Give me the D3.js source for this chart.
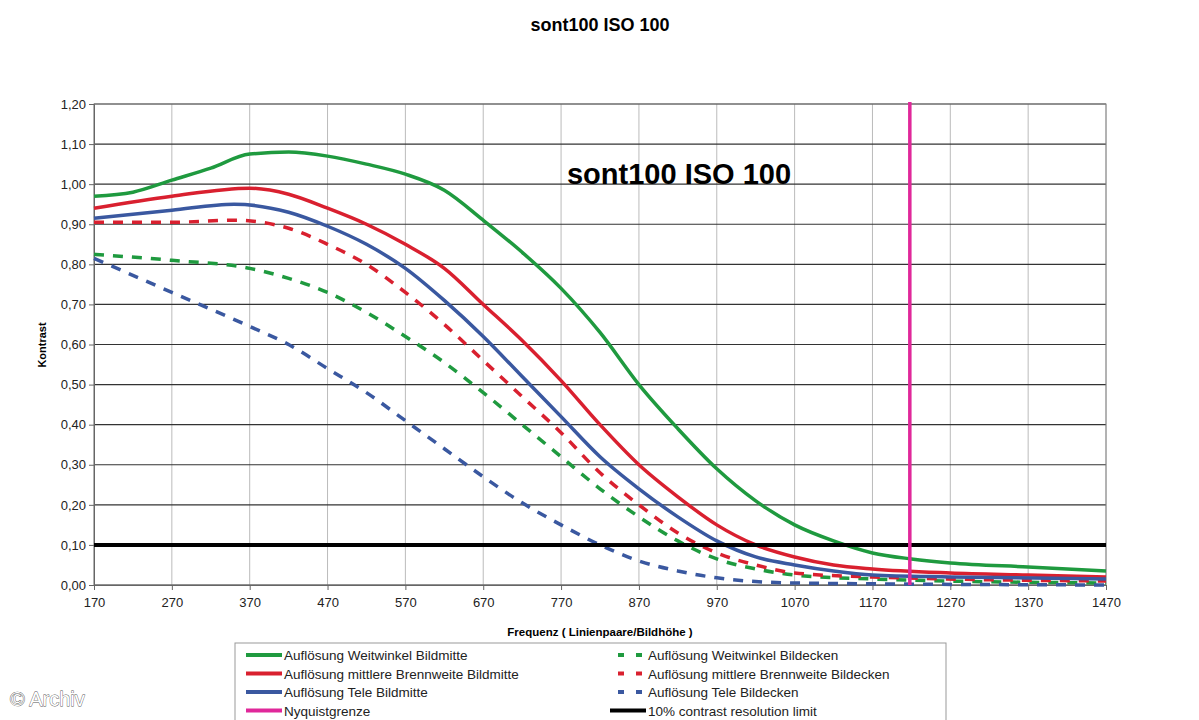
<!DOCTYPE html>
<html><head><meta charset="utf-8">
<script src="https://cdn.jsdelivr.net/npm/d3@7"></script>
<style>body{margin:0;background:#fff}svg{font-family:Arial,"Liberation Sans",sans-serif}</style>
</head><body><svg id="c" width="1199" height="720"></svg>
<script>
var freqWB = [170,220,270,320,370,420,470,520,570,620,670,720,770,820,870,920,970,1020,1070,1120,1170,1220,1270,1370,1470];
var weitMitte = [0.97,0.98,1.01,1.04,1.075,1.08,1.07,1.05,1.025,0.985,0.91,0.83,0.74,0.63,0.50,0.39,0.29,0.21,0.15,0.11,0.08,0.065,0.055,0.045,0.035];
var freqRM = [170,270,370,420,470,520,570,620,670,720,770,820,870,920,970,1020,1070,1120,1170,1270,1370,1470];
var mittelMitte = [0.94,0.97,0.99,0.975,0.94,0.90,0.85,0.79,0.70,0.61,0.51,0.40,0.30,0.22,0.15,0.10,0.07,0.05,0.04,0.03,0.025,0.02];
var freqBM = [170,270,350,420,470,520,570,620,670,720,770,820,870,920,970,1020,1070,1120,1170,1270,1470];
var teleMitte = [0.915,0.935,0.95,0.93,0.895,0.85,0.79,0.71,0.62,0.52,0.42,0.32,0.24,0.17,0.11,0.07,0.05,0.035,0.025,0.02,0.015];
var freqRD = [170,270,350,420,470,520,570,620,670,720,770,820,870,920,970,1020,1070,1170,1470];
var mittelDecken = [0.905,0.905,0.91,0.89,0.85,0.80,0.73,0.65,0.56,0.47,0.38,0.28,0.20,0.13,0.08,0.05,0.03,0.02,0.01];
var freqGD = [170,270,370,420,470,520,570,620,670,720,770,820,870,920,970,1020,1070,1170,1470];
var weitDecken = [0.825,0.81,0.79,0.765,0.73,0.68,0.62,0.555,0.48,0.40,0.32,0.24,0.17,0.11,0.065,0.04,0.025,0.015,0.005];
var freqBD = [170,270,370,420,470,520,570,620,670,720,770,820,870,920,970,1070,1470];
var teleDecken = [0.815,0.73,0.645,0.60,0.54,0.48,0.41,0.34,0.27,0.205,0.15,0.10,0.06,0.035,0.018,0.005,0.0];
var nyquist = 1218;
var limit = 0.10;
var xTicks = d3.range(170, 1471, 100);
var yTicks = d3.range(0, 1.201, 0.1);

var svg = d3.select("#c");
var x = d3.scaleLinear().domain([170,1470]).range([94,1106]);
var y = d3.scaleLinear().domain([0,1.2]).range([585,104]);
var fmt = function(v){ return v.toFixed(2).replace(".", ","); };

var g = svg.append("g");
g.selectAll(".vg").data(xTicks).enter().append("line")
  .attr("x1",d=>x(d)).attr("x2",d=>x(d)).attr("y1",104).attr("y2",585)
  .attr("stroke","#bbb").attr("stroke-width",1);
g.selectAll(".hg").data(yTicks).enter().append("line")
  .attr("x1",94).attr("x2",1106).attr("y1",d=>y(d)).attr("y2",d=>y(d))
  .attr("stroke","#333").attr("stroke-width",1.2);
g.append("rect").attr("x",94).attr("y",104).attr("width",1012).attr("height",481)
  .attr("fill","none").attr("stroke","#888");

var xa = svg.append("g").attr("transform","translate(0,585)")
  .call(d3.axisBottom(x).tickValues(xTicks).tickSize(5).tickFormat(d3.format("d")));
var ya = svg.append("g").attr("transform","translate(94,0)")
  .call(d3.axisLeft(y).tickValues(yTicks).tickSize(5).tickFormat(fmt));
[xa,ya].forEach(a=>{a.selectAll("text").attr("font-size",13).attr("fill","#222").attr("font-family","Arial,'Liberation Sans',sans-serif");
  a.select(".domain").attr("stroke","#666"); a.selectAll(".tick line").attr("stroke","#666");});
xa.selectAll("text").attr("dy","1.1em");

var line = d3.line().x(d=>x(d[0])).y(d=>y(d[1])).curve(d3.curveMonotoneX);
var series = [
  [freqGD, weitDecken, "#1f9a3f", true],
  [freqRD, mittelDecken, "#d9202f", true],
  [freqBD, teleDecken, "#3a58a0", true],
  [freqWB, weitMitte, "#1f9a3f", false],
  [freqRM, mittelMitte, "#d9202f", false],
  [freqBM, teleMitte, "#3a58a0", false]
];
series.forEach(function(s){
  svg.append("path").attr("d", line(d3.zip(s[0], s[1])))
    .attr("fill","none").attr("stroke",s[2]).attr("stroke-width",3.5)
    .attr("stroke-dasharray", s[3] ? "10,9" : null);
});
svg.append("line").attr("x1",94).attr("x2",1106).attr("y1",y(limit)).attr("y2",y(limit))
  .attr("stroke","#000").attr("stroke-width",4);
svg.append("line").attr("x1",x(nyquist)).attr("x2",x(nyquist)).attr("y1",102).attr("y2",585)
  .attr("stroke","#e0289a").attr("stroke-width",3.5);

svg.append("text").attr("x",600).attr("y",31).attr("text-anchor","middle")
  .attr("font-size",18).attr("font-weight","bold").text("sont100 ISO 100");
svg.append("text").attr("x",679).attr("y",184).attr("text-anchor","middle")
  .attr("font-size",29).attr("font-weight","bold").text("sont100 ISO 100");
svg.append("text").attr("transform","translate(46,345) rotate(-90)").attr("text-anchor","middle")
  .attr("font-size",11).attr("font-weight","bold").text("Kontrast");
svg.append("text").attr("x",600).attr("y",636).attr("text-anchor","middle")
  .attr("font-size",11.5).attr("font-weight","bold").text("Frequenz ( Linienpaare/Bildhöhe )");

var legend = [
  ["Auflösung Weitwinkel Bildmitte","#1f9a3f",false,0,0],
  ["Auflösung mittlere Brennweite Bildmitte","#d9202f",false,0,1],
  ["Auflösung Tele Bildmitte","#3a58a0",false,0,2],
  ["Nyquistgrenze","#e0289a",false,0,3],
  ["Auflösung Weitwinkel Bildecken","#1f9a3f",true,1,0],
  ["Auflösung mittlere Brennweite Bildecken","#d9202f",true,1,1],
  ["Auflösung Tele Bildecken","#3a58a0",true,1,2],
  ["10% contrast resolution limit","#000",false,1,3]
];
svg.append("rect").attr("x",235).attr("y",643).attr("width",711).attr("height",80)
  .attr("fill","none").attr("stroke","#999");
var lg = svg.selectAll(".lg").data(legend).enter().append("g")
  .attr("transform",d=>"translate("+(d[3]?610:246)+","+(655+d[4]*18.5)+")");
lg.append("line").attr("x1",0).attr("x2",36).attr("stroke",d=>d[1]).attr("stroke-width",4)
  .attr("stroke-dasharray",d=>d[2]?"6,12":null).attr("transform",d=>d[2]?"translate(8,0)":null);
lg.append("text").attr("x",38).attr("y",5).attr("font-size",13.5).attr("fill","#222").text(d=>d[0]);

svg.append("text").attr("x",10).attr("y",706).attr("font-size",20).attr("fill","#fff")
  .attr("stroke","#555").attr("stroke-width",0.8).attr("paint-order","stroke").text("© Archiv");
</script></body></html>
